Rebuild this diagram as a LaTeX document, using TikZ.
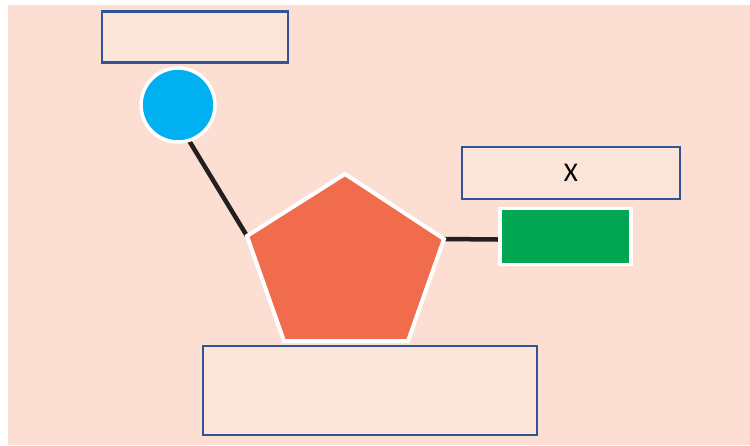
\documentclass[tikz,border=0pt]{standalone}
\usepackage{fontspec}
\setmainfont{Carlito}
\definecolor{bgpink}{HTML}{FCDED3}
\definecolor{boxfill}{HTML}{FBE5D8}
\definecolor{boxline}{HTML}{2F5597}
\definecolor{pent}{HTML}{F06C4C}
\definecolor{ballblue}{HTML}{00B0F0}
\definecolor{rectgreen}{HTML}{00A651}
\definecolor{stick}{HTML}{231F20}
\begin{document}
\begin{tikzpicture}[x=1pt,y=-1pt,
  labelbox/.style={draw=boxline,line width=2.5pt,fill=boxfill},
  bond/.style={draw=stick,line width=4.5pt}]
\useasboundingbox (0,0) rectangle (750,445);
\fill[white] (0,0) rectangle (750,445);
\fill[bgpink] (8,5) rectangle (750,445);
% coordinates
\coordinate (pT) at (345,174);
\coordinate (pL) at (247,236);
\coordinate (pR) at (444,239);
\coordinate (pBR) at (408,341);
\coordinate (pBL) at (284,341);
\coordinate (ballc) at (178,105);
\coordinate (stickend) at (185,134);
\coordinate (gl) at (498,239.5);
% bonds
\draw[bond] (stickend) -- (pL);
\draw[bond] (pR) -- (gl);
% pentagon
\filldraw[fill=pent,draw=white,line width=4pt,line join=miter] (pT) -- (pR) -- (pBR) -- (pBL) -- (pL) -- cycle;
% ball
\node[circle,fill=ballblue,draw=white,line width=3.5pt,minimum size=74pt,inner sep=0pt] (ball) at (ballc) {};
% green rect
\node[fill=rectgreen,draw=white,line width=3.5pt,minimum width=131pt,minimum height=56pt,inner sep=0pt,anchor=west] (base) at (498,236.5) {};
% label boxes
\node[labelbox,minimum width=186pt,minimum height=51pt,inner sep=0pt] (box1) at (195,37) {};
\node[labelbox,minimum width=218pt,minimum height=52pt,inner sep=0pt,font=\fontsize{27}{30}\selectfont] (box2) at (571,173) {X};
\node[labelbox,minimum width=334pt,minimum height=89pt,inner sep=0pt] (box3) at (370,390.5) {};
\end{tikzpicture}
\end{document}
